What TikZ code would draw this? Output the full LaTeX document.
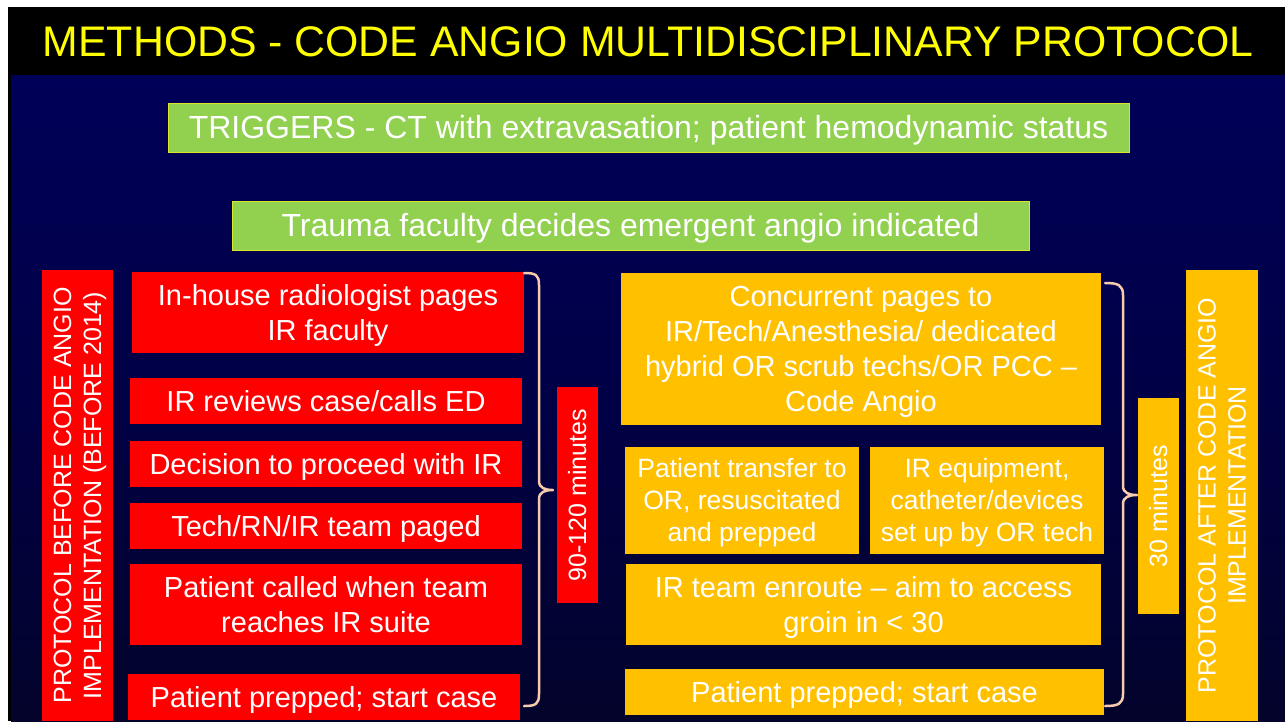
\documentclass[tikz,border=0pt]{standalone}
\usepackage{fontspec}
\setmainfont{Liberation Sans}
\definecolor{navy}{RGB}{0,0,102}
\definecolor{bgnavyb}{RGB}{0,0,92}
\definecolor{bgmid}{RGB}{0,0,70}
\definecolor{bglow}{RGB}{4,4,38}
\definecolor{bgbot}{RGB}{3,3,16}
\definecolor{boxred}{RGB}{255,0,0}
\definecolor{boxorange}{RGB}{255,192,0}
\definecolor{boxgreen}{RGB}{146,208,80}
\definecolor{greenedge}{RGB}{220,230,40}
\definecolor{titleyellow}{RGB}{255,255,0}
\definecolor{bracecol}{RGB}{248,203,173}
\pgfdeclareverticalshading{bgshade}{100bp}{color(0bp)=(bgbot); color(20bp)=(bglow); color(50bp)=(bgmid); color(80bp)=(bgnavyb); color(100bp)=(navy)}
\newcommand\ts{\rule{0pt}{0.905em}}
\newcommand\bs{\rule[-0.212em]{0pt}{0pt}}
\begin{document}
\begin{tikzpicture}[x=1pt,y=-1pt,
  box/.style={rectangle, inner sep=0pt, align=center, text=white},
  redbox/.style={box, fill=boxred},
  orbox/.style={box, fill=boxorange},
  grbox/.style={box, fill=boxgreen, draw=greenedge, line width=1pt},
  ftitle/.style={font=\fontsize{42.8}{50}\selectfont},
  fgreen/.style={font=\fontsize{32}{38}\selectfont},
  fmain/.style={font=\fontsize{29}{35}\selectfont},
  fsmall/.style={font=\fontsize{26.5}{32}\selectfont},
  fvert/.style={font=\fontsize{25}{30}\selectfont},
  bracestyle/.style={draw=bracecol, line width=2.5pt, line cap=round, line join=round}]
\useasboundingbox (0,0) rectangle (1285,721);
\fill[white] (0,0) rectangle (1285,721);
\fill[black] (8,7) rectangle (1285,721);
\shade[shading=bgshade] (11,75) rectangle (1285,721);

\node[ftitle, text=titleyellow, inner sep=0pt] (title) at (648,42) {METHODS - CODE ANGIO MULTIDISCIPLINARY PROTOCOL};

\node[grbox, fgreen, minimum width=961, minimum height=49] (trig) at (648.5,127.5) {\ts TRIGGERS - CT with extravasation; patient hemodynamic status\bs};
\node[grbox, fgreen, minimum width=797, minimum height=49] (trauma) at (630.5,225.5) {\ts Trauma faculty decides emergent angio indicated\bs};

% left column
\node[redbox, fvert, rotate=90, minimum width=451, minimum height=71] (lv) at (77.5,495.5) {\ts PROTOCOL BEFORE CODE ANGIO\\IMPLEMENTATION (BEFORE 2014)\bs};
\node[redbox, fmain, minimum width=392, minimum height=81] (r1) at (328,312.5) {\ts In-house radiologist pages\\IR faculty\bs};
\node[redbox, fmain, minimum width=392, minimum height=46] (r2) at (326,401) {\ts IR reviews case/calls ED\bs};
\node[redbox, fmain, minimum width=392, minimum height=46] (r3) at (326,464) {\ts Decision to proceed with IR\bs};
\node[redbox, fmain, minimum width=392, minimum height=46] (r4) at (326,526) {\ts Tech/RN/IR team paged\bs};
\node[redbox, fmain, minimum width=392, minimum height=81] (r5) at (326,604.5) {\ts Patient called when team\\reaches IR suite\bs};
\node[redbox, fmain, minimum width=392, minimum height=46] (r6) at (324,697) {\ts Patient prepped; start case\bs};
\node[redbox, fvert, rotate=90, minimum width=216, minimum height=41] (t1) at (577.5,495) {\ts 90-120 minutes\bs};

% right column
\node[orbox, fmain, minimum width=480, minimum height=152] (oA) at (861,349) {\ts Concurrent pages to\\IR/Tech/Anesthesia/ dedicated\\hybrid OR scrub techs/OR PCC --\\Code Angio\bs};
\node[orbox, fsmall, minimum width=234, minimum height=107] (oB) at (742,500.5) {\ts Patient transfer to\\OR, resuscitated\\and prepped\bs};
\node[orbox, fsmall, minimum width=234, minimum height=107] (oC) at (987,500.5) {\ts IR equipment,\\catheter/devices\\set up by OR tech\bs};
\node[orbox, fmain, minimum width=475, minimum height=81] (oD) at (863.5,604.5) {\ts IR team enroute -- aim to access\\groin in {\textless} 30\bs};
\node[orbox, fmain, minimum width=479, minimum height=46] (oE) at (864.5,692) {\ts Patient prepped; start case\bs};
\node[orbox, fvert, rotate=90, minimum width=216, minimum height=41] (t2) at (1158.5,506) {\ts 30 minutes\bs};
\node[orbox, fvert, rotate=90, minimum width=451, minimum height=72] (rv) at (1222,495.5) {\ts PROTOCOL AFTER CODE ANGIO\\IMPLEMENTATION\bs};

% braces
\coordinate (bLt) at (524,273);
\coordinate (bLtip) at (553,490);
\coordinate (bLb) at (524,706);
\draw[bracestyle] (bLt) .. controls (536,273) and (539,275) .. (539,285) -- (539,481) .. controls (539,488) and (545,490) .. (bLtip) .. controls (545,490) and (539,492) .. (539,499) -- (539,694) .. controls (539,704) and (536,706) .. (bLb);
\coordinate (bRt) at (1105,283);
\coordinate (bRtip) at (1137,495);
\coordinate (bRb) at (1105,706);
\draw[bracestyle] (bRt) .. controls (1118,283) and (1123,285) .. (1123,295) -- (1123,486) .. controls (1123,493) and (1129,495) .. (bRtip) .. controls (1129,495) and (1123,497) .. (1123,504) -- (1123,694) .. controls (1123,704) and (1118,706) .. (bRb);
\end{tikzpicture}
\end{document}
